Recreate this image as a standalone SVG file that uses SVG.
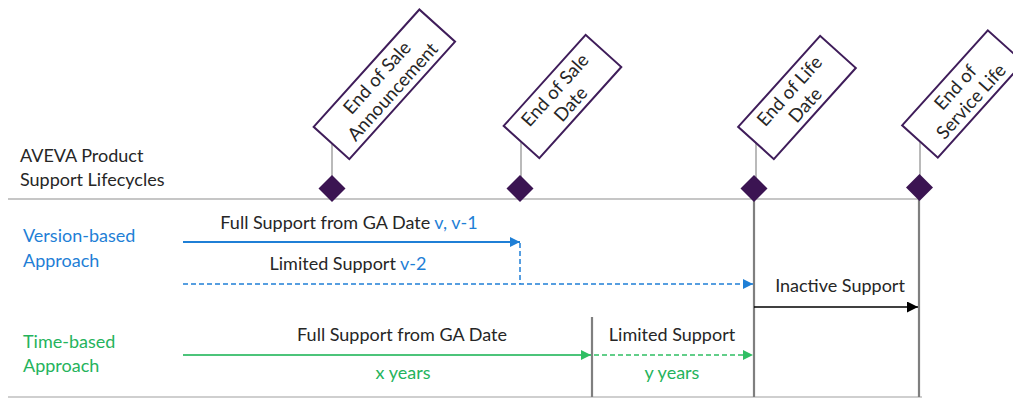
<svg xmlns="http://www.w3.org/2000/svg" width="1013" height="399" viewBox="0 0 1013 399">
<style>
text{font-family:Lato,"Open Sans","Liberation Sans",sans-serif;font-size:18px;fill:#262626}
.mile rect{fill:#fff;stroke:#3f1d5a;stroke-width:2}
.mile text{text-anchor:middle;font-size:18.5px}
.dia{fill:#3b1452}
.stem{stroke:#8c8c8c;stroke-width:1.2}
.vline{stroke:#7f7f7f;stroke-width:2.2}
.hline{stroke:#b3b3b3;stroke-width:1.5}
.blue{fill:#1f7fd6}
.green{fill:#25b35c}
.mid{text-anchor:middle}
</style>
<defs>
<marker id="ab" viewBox="0 0 10 10" refX="10" refY="5" markerWidth="10" markerHeight="10" markerUnits="userSpaceOnUse" orient="auto"><path d="M0,0L10,5L0,10z" fill="#1f7fd6"/></marker>
<marker id="ag" viewBox="0 0 10 10" refX="10" refY="5" markerWidth="10" markerHeight="10" markerUnits="userSpaceOnUse" orient="auto"><path d="M0,0L10,5L0,10z" fill="#2fbf63"/></marker>
<marker id="ak" viewBox="0 0 10 10" refX="10" refY="5" markerWidth="11" markerHeight="11" markerUnits="userSpaceOnUse" orient="auto"><path d="M0,0L10,5L0,10z" fill="#000"/></marker>
</defs>

<g id="axes">
<line class="hline" x1="8" y1="199" x2="920" y2="199"/>
<line x1="8" y1="397" x2="922" y2="397" stroke="#cfcfcf" stroke-width="2"/>
<line class="vline" x1="754" y1="188" x2="754" y2="397"/>
<line class="vline" x1="919" y1="187" x2="919" y2="397"/>
<line class="vline" x1="592" y1="317" x2="592" y2="397"/>
</g>

<g id="m1" class="mile">
<line class="stem" x1="332" y1="143" x2="332" y2="180"/>
<path class="dia" d="M332,175L345.5,188.5L332,202L318.5,188.5z"/>
<g transform="translate(331.5,143) rotate(-48)">
<rect x="0" y="-24" width="158" height="48"/>
<text x="79" y="-3.5">End of Sale</text>
<text x="79" y="17.5">Announcement</text>
</g>
</g>

<g id="m2" class="mile">
<line class="stem" x1="521" y1="142" x2="521" y2="180"/>
<path class="dia" d="M520,175L533.5,188.5L520,202L506.5,188.5z"/>
<g transform="translate(521.5,142) rotate(-48)">
<rect x="0" y="-24" width="122.5" height="48"/>
<text x="61" y="-3.5">End of Sale</text>
<text x="61" y="17.5">Date</text>
</g>
</g>

<g id="m3" class="mile">
<line class="stem" x1="756" y1="143" x2="756" y2="180"/>
<path class="dia" d="M754,175L767.5,188.5L754,202L740.5,188.5z"/>
<g transform="translate(756,143) rotate(-48)">
<rect x="0" y="-24" width="122.5" height="48"/>
<text x="61" y="-3.5">End of Life</text>
<text x="61" y="17.5">Date</text>
</g>
</g>

<g id="m4" class="mile">
<line class="stem" x1="920" y1="141.5" x2="920" y2="178"/>
<path class="dia" d="M919.5,174L933,187.5L919.5,201L906,187.5z"/>
<g transform="translate(920,141.5) rotate(-48)">
<rect x="0" y="-24" width="128" height="48"/>
<text x="64" y="-3.5">End of</text>
<text x="64" y="17.5">Service Life</text>
</g>
</g>

<g id="labels">
<text x="20" y="162">AVEVA Product</text>
<text x="20" y="186">Support Lifecycles</text>
<text x="23" y="242" class="blue">Version-based</text>
<text x="23" y="267" class="blue">Approach</text>
<text x="23" y="348" class="green">Time-based</text>
<text x="23" y="372" class="green">Approach</text>
</g>

<g id="connectors" fill="none">
<line x1="183" y1="242" x2="520" y2="242" stroke="#1f7fd6" stroke-width="1.8" marker-end="url(#ab)"/>
<line x1="520" y1="243" x2="520" y2="284" stroke="#1f7fd6" stroke-width="1.5" stroke-dasharray="5,3"/>
<line x1="183" y1="284" x2="753" y2="284" stroke="#1f7fd6" stroke-width="1.5" stroke-dasharray="5,3" marker-end="url(#ab)"/>
<line x1="754" y1="307" x2="918" y2="307" stroke="#000" stroke-width="1.5" marker-end="url(#ak)"/>
<line x1="183" y1="355" x2="591" y2="355" stroke="#4cc47a" stroke-width="2" marker-end="url(#ag)"/>
<line x1="594" y1="355" x2="753" y2="355" stroke="#2fbf63" stroke-width="1.5" stroke-dasharray="5,3" marker-end="url(#ag)"/>
</g>

<g id="connector-labels">
<text x="349" y="229" class="mid">Full Support from GA Date <tspan class="blue">v, v-1</tspan></text>
<text x="348" y="270" class="mid">Limited Support <tspan class="blue">v-2</tspan></text>
<text x="840" y="292" class="mid">Inactive Support</text>
<text x="402" y="341" class="mid">Full Support from GA Date</text>
<text x="672" y="341" class="mid">Limited Support</text>
<text x="403" y="379" class="mid green">x years</text>
<text x="672" y="379" class="mid green">y years</text>
</g>
</svg>
